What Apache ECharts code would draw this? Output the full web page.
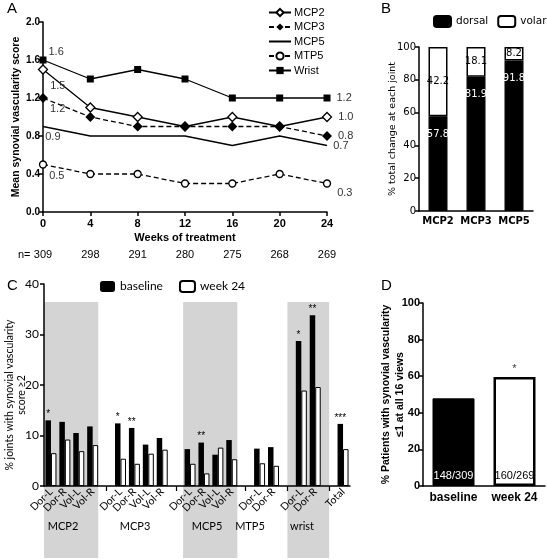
<!DOCTYPE html>
<html><head><meta charset="utf-8">
<script src="https://cdn.jsdelivr.net/npm/echarts@6/dist/echarts.min.js"></script>
<style>html,body{margin:0;padding:0;background:#fff}#c{width:547px;height:559px}</style>
</head><body><div id="c"></div>
<script>
// ---------- Panel A ----------
const weeks = [0,4,8,12,16,20,24];
const nPatients = [309,298,291,280,275,268,269];
const mcp2 = [1.5,1.1,1.0,0.9,1.0,0.9,1.0];
const mcp3 = [1.2,1.0,0.9,0.9,0.9,0.9,0.8];
const mcp5 = [0.9,0.8,0.8,0.8,0.7,0.8,0.7];
const mtp5 = [0.5,0.4,0.4,0.3,0.3,0.4,0.3];
const wrist = [1.6,1.4,1.5,1.4,1.2,1.2,1.2];
// ---------- Panel B ----------
const bJoints = ['MCP2','MCP3','MCP5'];
const bDorsal = [57.8,81.9,91.8];
const bVolar = [42.2,18.1,8.2];
// ---------- Panel C ----------
const cViews = ['Dor-L','Dor-R','Vol-L','Vol-R','','Dor-L','Dor-R','Vol-L','Vol-R','','Dor-L','Dor-R','Vol-L','Vol-R','','Dor-L','Dor-R','','Dor-L','Dor-R','','Total'];
const cBaseline = [13.0,12.7,10.5,11.8,null,12.4,11.5,8.2,9.5,null,7.3,8.6,6.2,9.1,null,7.4,7.7,null,28.7,33.8,null,12.3];
const cWeek24 = [6.5,9.2,6.9,8.1,null,5.4,4.4,6.4,7.2,null,4.4,2.5,7.6,5.3,null,4.5,4.0,null,18.9,19.6,null,7.3];
const cStars = ['*','','','','','*','**','','','','','**','','','','','','','*','**','','***'];
const cGroups = ['MCP2','MCP3','MCP5','MTP5','wrist'];
// ---------- Panel D ----------
const dGroups = ['baseline','week 24'];
const dPercent = [47.9,59.5];
const dCounts = ['148/309','160/269'];
const dStars = ['','*'];

// layout constants (not data)
const cBandRanges = [[0,3.9],[10,13.9],[17.5,20.5]];
const cGroupX = [63,135,207,250,302];
const leftLabelOffsets = {wrist:[0,-8], mcp2:[0,16], mcp3:[0,11], mcp5:[0,10], mtp5:[0,11]};
const rightLabelOffsets = {wrist:[0,0], mcp2:[0,0], mcp3:[0,0], mcp5:[0,0], mtp5:[0,9]};

const AF = 'Liberation Sans';
const axisBlack = {lineStyle:{color:'#000', width:1.5}};
const tickBlack = {show:true, length:4, lineStyle:{color:'#000', width:1.5}};

function lineData(vals, key){
  return vals.map((v,i)=>{
    const d = {value:[weeks[i], v]};
    if(i===0 || i===vals.length-1){
      d.label = {show:true, position:'right', distance: i===0?2:6,
        offset: i===0 ? leftLabelOffsets[key] : rightLabelOffsets[key],
        formatter: v.toFixed(1), color:'#333', fontFamily:AF, fontSize:11};
    }
    return d;
  });
}
function lineSeries(name, vals, key, symbol, size, dashed, fill){
  return {type:'line', name, xAxisIndex:0, yAxisIndex:0, data:lineData(vals,key),
    symbol, symbolSize:size, showAllSymbol:true,
    lineStyle:{color:'#000', width:1.3, type: dashed?[5,3]:'solid'},
    itemStyle:{color:fill, borderColor:'#000', borderWidth: fill==='#000'?0:1.3},
    emphasis:{disabled:true}, z:3};
}
const G = (o)=>Object.assign({outerBoundsMode:'none', containLabel:false}, o);

const chart = echarts.init(document.getElementById('c'), null, {renderer:'canvas'});
const option = {
  animation:false,
  backgroundColor:'#fff',
  textStyle:{fontFamily:AF},
  grid:[
    G({left:43, top:22, width:284, height:190}),      // A
    G({left:419, top:47, width:114, height:164}),     // B
    G({left:44, top:284, width:306, height:202}),     // C
    G({left:44, top:302, width:306, height:256}),     // C bands
    G({left:423, top:303, width:122, height:183})     // D
  ],
  xAxis:[
    {gridIndex:0, type:'value', min:0, max:24, interval:4,
     axisLine:axisBlack, axisTick:tickBlack, splitLine:{show:false},
     axisLabel:{color:'#000', fontWeight:'bold', fontSize:11, margin:6},
     name:'Weeks of treatment', nameLocation:'middle', nameGap:20, nameMoveOverlap:false,
     nameTextStyle:{color:'#000', fontWeight:'bold', fontSize:11}},
    {gridIndex:0, type:'value', min:0, max:24, interval:4, position:'bottom', offset:37,
     axisLine:{show:false}, axisTick:{show:false}, splitLine:{show:false},
     axisLabel:{color:'#000', fontSize:11, margin:0, formatter:(v)=>String(nPatients[weeks.indexOf(v)])}},
    {gridIndex:1, type:'category', data:bJoints,
     axisLine:axisBlack, axisTick:{show:false},
     axisLabel:{color:'#000', fontWeight:'bold', fontSize:10, margin:5, interval:0, fontFamily:'DejaVu Sans'}},
    {gridIndex:2, type:'category', data:cViews, z:5,
     axisLine:axisBlack,
     axisTick:{show:true, alignWithLabel:true, length:5, interval:(i)=>cViews[i]==='', lineStyle:{color:'#000', width:1.2}},
     axisLabel:{color:'#000', fontSize:10.5, rotate:45, interval:0, hideOverlap:false, margin:4, fontFamily:'Lato'}},
    {gridIndex:3, type:'value', min:0, max:22, show:false},
    {gridIndex:4, type:'category', data:dGroups,
     axisLine:axisBlack, axisTick:{show:false},
     axisLabel:{color:'#000', fontWeight:'bold', fontSize:12, margin:6, interval:0}}
  ],
  yAxis:[
    {gridIndex:0, type:'value', min:0, max:2, interval:0.4,
     axisLine:{show:true, ...axisBlack}, axisTick:tickBlack, splitLine:{show:false},
     axisLabel:{color:'#000', fontWeight:'bold', fontSize:10, margin:3, formatter:(v)=>v.toFixed(1)},
     name:'Mean synovial vascularity score', nameLocation:'middle', nameGap:21, nameMoveOverlap:false,
     nameTextStyle:{color:'#000', fontWeight:'bold', fontSize:10.5}},
    {gridIndex:1, type:'value', min:0, max:100, interval:20,
     axisLine:{show:true, ...axisBlack}, axisTick:tickBlack, splitLine:{show:false},
     axisLabel:{color:'#000', fontSize:10, margin:3, fontFamily:'DejaVu Sans'},
     name:'% total change at each joint', nameLocation:'middle', nameGap:21, nameMoveOverlap:false,
     nameTextStyle:{color:'#000', fontSize:9.5, fontFamily:'DejaVu Sans'}},
    {gridIndex:2, type:'value', min:0, max:40, interval:10, z:5,
     axisLine:{show:true, ...axisBlack}, axisTick:tickBlack, splitLine:{show:false},
     axisLabel:{color:'#000', fontSize:12, margin:5, fontFamily:'Lato'},
     name:'% joints with synovial vascularity\nscore ≥2', nameLocation:'middle', nameGap:16, nameMoveOverlap:false,
     nameTextStyle:{color:'#000', fontSize:10.5, fontFamily:'Lato', lineHeight:12, padding:[0,20,0,0]}},
    {gridIndex:3, type:'value', min:0, max:1, show:false},
    {gridIndex:4, type:'value', min:0, max:100, interval:20,
     axisLine:{show:true, ...axisBlack}, axisTick:tickBlack, splitLine:{show:false},
     axisLabel:{color:'#000', fontWeight:'bold', fontSize:11, margin:3},
     name:'% Patients with synovial vascularity\n≤1 at all 16 views', nameLocation:'middle', nameGap:16, nameMoveOverlap:false,
     nameTextStyle:{color:'#000', fontWeight:'bold', fontSize:10.5, lineHeight:14}}
  ],
  legend:[
    {data:['MCP2','MCP3',{name:'MCP5', itemStyle:{opacity:0}},'MTP5','Wrist'], orient:'vertical', left:268, top:6, padding:0, itemGap:1.5,
     itemWidth:22, itemHeight:9, textStyle:{color:'#000', fontSize:11, fontFamily:AF, padding:[0,0,0,-2], lineHeight:13}},
    {data:['dorsal','volar'], left:433, top:15, padding:0, width:200, itemGap:9, itemWidth:17, itemHeight:11,
     textStyle:{color:'#000', fontSize:10.5, fontFamily:'DejaVu Sans'}},
    {data:['baseline','week 24'], left:100, top:280, padding:0, width:200, itemGap:16, itemWidth:15, itemHeight:11,
     textStyle:{color:'#000', fontSize:12, fontFamily:'Lato'}}
  ],
  series:[
    lineSeries('MCP2', mcp2, 'mcp2', 'diamond', 9, false, '#fff'),
    lineSeries('MCP3', mcp3, 'mcp3', 'diamond', 10, true, '#000'),
    lineSeries('MCP5', mcp5, 'mcp5', 'circle', 0.5, false, '#000'),
    lineSeries('MTP5', mtp5, 'mtp5', 'circle', 7, true, '#fff'),
    lineSeries('Wrist', wrist, 'wrist', 'rect', 7, false, '#000'),
    // B
    {type:'bar', name:'dorsal', xAxisIndex:2, yAxisIndex:1, stack:'b', data:bDorsal, barWidth:19,
     itemStyle:{color:'#000', borderColor:'#000', borderWidth:1.2},
     label:{show:true, position:'insideTop', distance:13, color:'#fff', fontSize:10, fontFamily:'DejaVu Sans'}},
    {type:'bar', name:'volar', xAxisIndex:2, yAxisIndex:1, stack:'b', data:bVolar, barWidth:19,
     itemStyle:{color:'#fff', borderColor:'#000', borderWidth:1.5},
     label:{show:true, position:'inside', color:'#000', fontSize:10, fontFamily:'DejaVu Sans'}},
    // C bands
    {type:'line', xAxisIndex:4, yAxisIndex:3, data:[], silent:true, z:-1,
     markArea:{silent:true, z:-1, itemStyle:{color:'#d4d4d4'},
       data: cBandRanges.map(r=>[{xAxis:r[0], yAxis:0},{xAxis:r[1], yAxis:1}])}},
    // C bars
    {type:'bar', name:'baseline', xAxisIndex:3, yAxisIndex:2, data:cBaseline, barWidth:5.5, barGap:'0%', z:3,
     itemStyle:{color:'#000'},
     label:{show:true, position:'top', distance:1, color:'#000', fontSize:10, formatter:(p)=>cStars[p.dataIndex]}},
    {type:'bar', name:'week 24', xAxisIndex:3, yAxisIndex:2, data:cWeek24, barWidth:5.5, barGap:'0%', z:3,
     itemStyle:{color:'#fff', borderColor:'#000', borderWidth:1}},
    // D
    {type:'bar', xAxisIndex:5, yAxisIndex:4, barWidth:42,
     data: dPercent.map((v,i)=>({value:v,
       itemStyle: i===0 ? {color:'#000', borderColor:'#000', borderWidth:1} : {color:'#fff', borderColor:'#000', borderWidth:2.5},
       label:{show:true, position:'insideBottom', distance:5, formatter:dCounts[i], color: i===0?'#fff':'#000', fontSize:11}}))},
    {type:'scatter', xAxisIndex:5, yAxisIndex:4, symbolSize:0.1, data:dPercent,
     label:{show:true, position:'top', distance:3, color:'#000', fontSize:11, formatter:(p)=>dStars[p.dataIndex]}}
  ],
  graphic:[
    {type:'text', left:7, top:1, style:{text:'A', font:'15px "Liberation Sans"', fill:'#000'}},
    {type:'text', left:381, top:1, style:{text:'B', font:'15px "Liberation Sans"', fill:'#000'}},
    {type:'text', left:7, top:278, style:{text:'C', font:'15px "Liberation Sans"', fill:'#000'}},
    {type:'text', left:381, top:278, style:{text:'D', font:'15px "Liberation Sans"', fill:'#000'}},
    {type:'text', left:18, top:249, style:{text:'n=', font:'11px "Liberation Sans"', fill:'#000'}},
    ...cGroups.map((g,i)=>({type:'text', x:cGroupX[i], y:526, z:10,
      style:{text:g, font:'11px Lato', fill:'#000', textAlign:'center', textVerticalAlign:'middle'}}))
  ]
};
chart.setOption(option);
</script>
</body></html>
